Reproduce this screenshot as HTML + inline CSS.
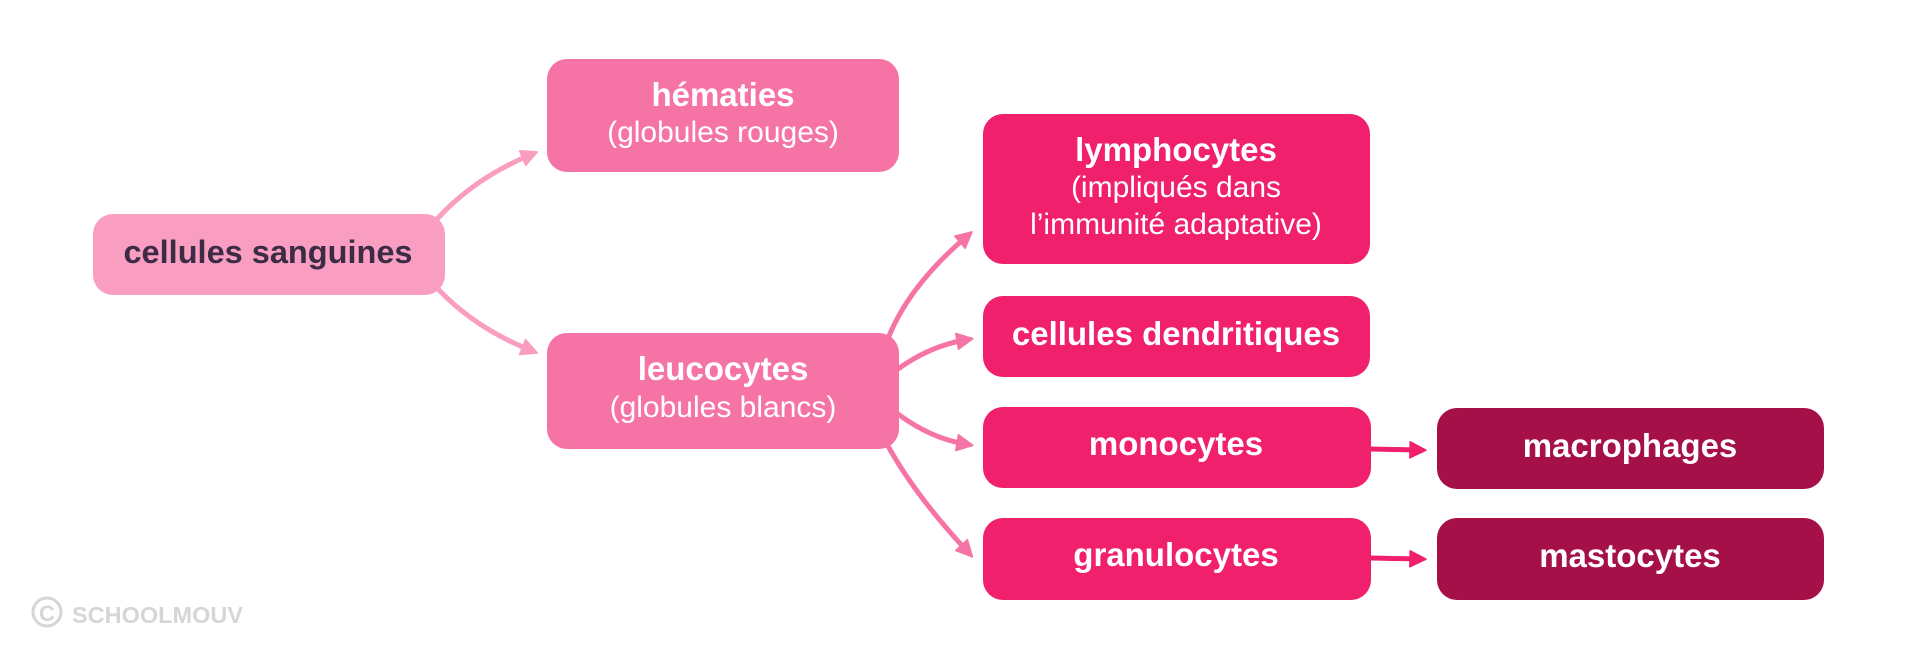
<!DOCTYPE html>
<html>
<head>
<meta charset="utf-8">
<style>
  html, body { margin:0; padding:0; background:#ffffff; }
  body { width:1921px; height:661px; overflow:hidden; }
  svg { display:block; }
  .t { font-family:"Liberation Sans", sans-serif; font-weight:bold; font-size:33px; fill:#ffffff; text-anchor:middle; }
  .s { font-family:"Liberation Sans", sans-serif; font-weight:normal; font-size:30px; fill:#ffffff; text-anchor:middle; }
</style>
</head>
<body>
<svg width="1921" height="661" viewBox="0 0 1921 661" xmlns="http://www.w3.org/2000/svg">
  <defs>
    <marker id="aL" markerUnits="userSpaceOnUse" markerWidth="22" markerHeight="22" refX="8" refY="8" orient="auto" viewBox="-2 -2 22 22">
      <path d="M0,0 L16,8 L0,16 Z" fill="#f99ec1" stroke="#f99ec1" stroke-width="1.5" stroke-linejoin="round"/>
    </marker>
    <marker id="aM" markerUnits="userSpaceOnUse" markerWidth="22" markerHeight="22" refX="8" refY="8" orient="auto" viewBox="-2 -2 22 22">
      <path d="M0,0 L16,8 L0,16 Z" fill="#f674a5" stroke="#f674a5" stroke-width="1.5" stroke-linejoin="round"/>
    </marker>
    <marker id="aD" markerUnits="userSpaceOnUse" markerWidth="22" markerHeight="22" refX="8" refY="8" orient="auto" viewBox="-2 -2 22 22">
      <path d="M0,0 L16,8 L0,16 Z" fill="#f0206d" stroke="#f0206d" stroke-width="1.5" stroke-linejoin="round"/>
    </marker>
  </defs>

  <!-- connectors -->
  <g fill="none" stroke-width="5" stroke-linecap="round">
    <path d="M438,218 Q475,178 530,155" stroke="#f99ec1" marker-end="url(#aL)"/>
    <path d="M438,289 Q475,328 530,350" stroke="#f99ec1" marker-end="url(#aL)"/>

    <path d="M889,336 Q910,285 966,237" stroke="#f674a5" marker-end="url(#aM)"/>
    <path d="M898,369 Q930,346 965,340" stroke="#f674a5" marker-end="url(#aM)"/>
    <path d="M898,414 Q930,438 965,444" stroke="#f674a5" marker-end="url(#aM)"/>
    <path d="M888,446 Q915,495 967,551" stroke="#f674a5" marker-end="url(#aM)"/>

    <path d="M1371,449 L1418,450" stroke="#f0206d" marker-end="url(#aD)"/>
    <path d="M1371,558 L1418,559" stroke="#f0206d" marker-end="url(#aD)"/>
  </g>

  <!-- boxes -->
  <rect x="93" y="214" width="352" height="81" rx="20" fill="#f99ec1"/>
  <rect x="547" y="59" width="352" height="113" rx="20" fill="#f674a5"/>
  <rect x="547" y="333" width="352" height="116" rx="20" fill="#f674a5"/>

  <rect x="983" y="114" width="387" height="150" rx="20" fill="#f0206d"/>
  <rect x="983" y="296" width="387" height="81" rx="20" fill="#f0206d"/>
  <rect x="983" y="407" width="388" height="81" rx="20" fill="#f0206d"/>
  <rect x="983" y="518" width="388" height="82" rx="20" fill="#f0206d"/>

  <rect x="1437" y="408" width="387" height="81" rx="20" fill="#a61048"/>
  <rect x="1437" y="518" width="387" height="82" rx="20" fill="#a61048"/>

  <!-- labels -->
  <text class="t" x="268" y="263" style="fill:#3b2b45;font-size:32.5px">cellules sanguines</text>

  <text class="t" x="723" y="106">hématies</text>
  <text class="s" x="723" y="142">(globules rouges)</text>

  <text class="t" x="723" y="380">leucocytes</text>
  <text class="s" x="723" y="417">(globules blancs)</text>

  <text class="t" x="1176" y="161">lymphocytes</text>
  <text class="s" x="1176" y="197">(impliqués dans</text>
  <text class="s" x="1176" y="234">l’immunité adaptative)</text>

  <text class="t" x="1176" y="345">cellules dendritiques</text>
  <text class="t" x="1176" y="455">monocytes</text>
  <text class="t" x="1176" y="566">granulocytes</text>

  <text class="t" x="1630" y="457">macrophages</text>
  <text class="t" x="1630" y="567">mastocytes</text>

  <!-- logo -->
  <circle cx="47" cy="612" r="14" fill="none" stroke="#d6d6d9" stroke-width="3"/>
  <text x="47" y="621" font-family="Liberation Sans, sans-serif" font-size="22" font-weight="bold" fill="#d6d6d9" text-anchor="middle">C</text>
  <text x="72" y="623" font-family="Liberation Sans, sans-serif" font-size="23.5px" font-weight="bold" fill="#d6d6d9">SCHOOLMOUV</text>
</svg>
</body>
</html>
